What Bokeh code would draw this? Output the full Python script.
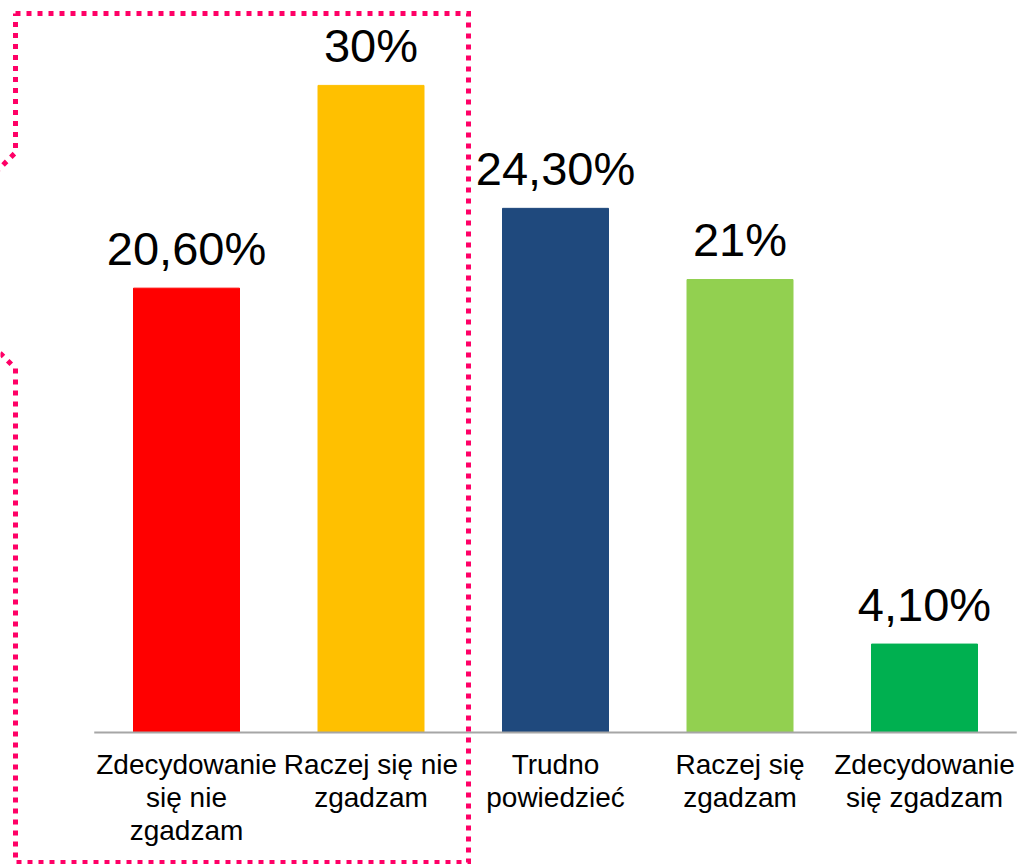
from bokeh.plotting import figure
from bokeh.models import Range1d, ColumnDataSource
from bokeh.core.properties import value
from bokeh.embed import file_html
from bokeh.resources import INLINE

categories = ["Zdecydowanie\nsię nie\nzgadzam", "Raczej się nie\nzgadzam", "Trudno\npowiedzieć",
              "Raczej się\nzgadzam", "Zdecydowanie\nsię zgadzam"]
values = [20.6, 30.0, 24.3, 21.0, 4.1]
value_labels = ["20,60%", "30%", "24,30%", "21%", "4,10%"]
colors = ["#FF0000", "#FFC000", "#1F497D", "#92D050", "#00B050"]

W, H = 1017, 864
# layout (pixels)
first_center, spacing = 186.0, 184.5
base_px, px_per_unit = 732.0, 21.57

x_start = -first_center / spacing
x_end = (W - first_center) / spacing
y_top = base_px / px_per_unit
y_bottom = -(H - base_px) / px_per_unit

p = figure(width=W, height=H, output_backend="svg", toolbar_location=None,
           x_range=Range1d(x_start, x_end), y_range=Range1d(y_bottom, y_top),
           min_border=0, min_border_left=0, min_border_right=0, min_border_top=0, min_border_bottom=0)
p.axis.visible = False
p.xgrid.visible = False
p.ygrid.visible = False
p.outline_line_color = None
p.background_fill_color = "white"
p.border_fill_color = "white"

xs = list(range(len(categories)))
src = ColumnDataSource(dict(x=xs, top=values, color=colors, lab=value_labels, cat=categories,
                            zero=[0] * len(xs)))

p.vbar(x="x", top="top", bottom=0, width=106 / spacing, color="color", source=src)

# axis line
p.segment(x0=[-0.5], x1=[len(categories) - 0.5], y0=[0], y1=[0], line_color="#A6A6A6", line_width=2)

# value labels
p.text(x="x", y="top", text="lab", source=src, text_align="center", text_baseline="alphabetic",
       y_offset=-40, text_font=value("Liberation Sans"), text_font_size="47px", text_color="black")

# category labels
p.text(x="x", y="zero", text="cat", source=src, text_align="center", text_baseline="top",
       y_offset=16, text_font=value("Liberation Sans"), text_font_size="28px", text_color="black",
       text_line_height=1.08)

# dotted callout border (pixel-based decoration)
def dx(px):
    return x_start + px / W * (x_end - x_start)

def dy(py):
    return y_top - py / H * (y_top - y_bottom)

bx = [15, 468, 468, 15, 15, -5, -5, 15, 15]
by = [13, 13, 862, 862, 368, 348, 172, 152, 13]
p.line(x=[dx(v) for v in bx], y=[dy(v) for v in by], line_color="#FF0066", line_width=5,
       line_dash="5 6", line_cap="butt", line_join="miter")

open("out.html", "w").write(file_html(p, INLINE))
